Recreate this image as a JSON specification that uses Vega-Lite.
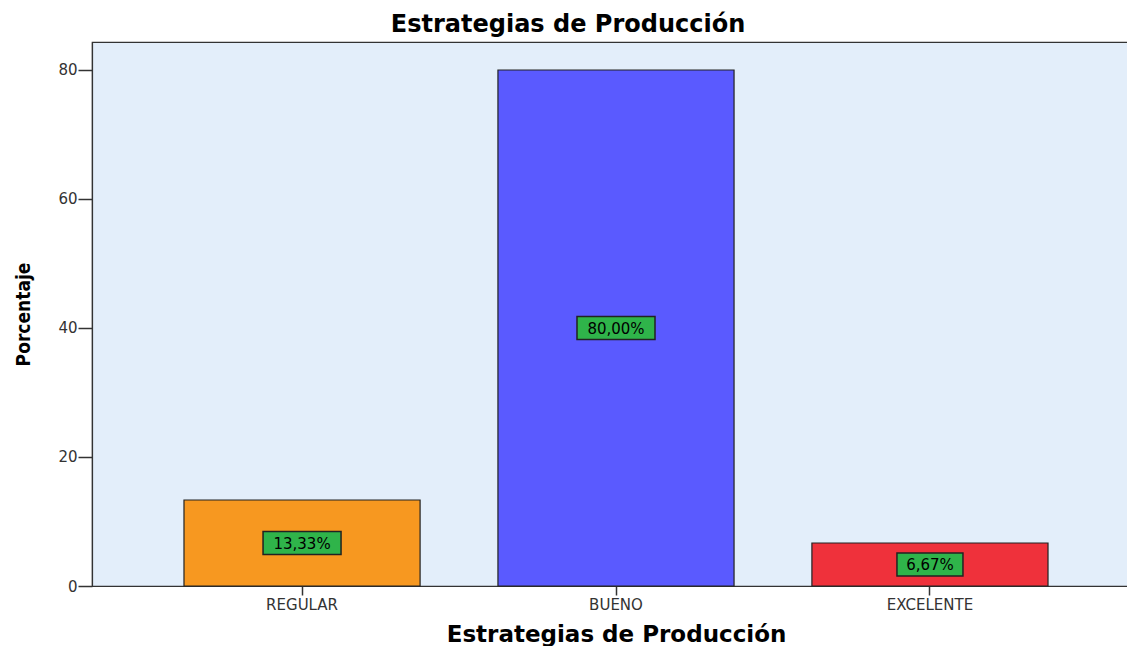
{
  "$schema": "https://vega.github.io/schema/vega-lite/v6.json",
  "autosize": "none",
  "width": 1048,
  "height": 544,
  "padding": {"left": 92, "top": 42, "right": 0, "bottom": 60},
  "background": "white",
  "config": {
    "view": {"fill": "#e3eefa", "stroke": "#333333", "strokeWidth": 1.2},
    "font": "DejaVu Sans"
  },
  "title": {
    "text": "Estrategias de Producción",
    "font": "DejaVu Sans",
    "fontSize": 24,
    "fontWeight": "bold",
    "color": "#000000",
    "anchor": "middle",
    "dx": -48,
    "offset": 5
  },
  "data": {
    "values": [
      {"cat": "REGULAR", "pct": 13.33, "label": "13,33%"},
      {"cat": "BUENO", "pct": 80.0, "label": "80,00%"},
      {"cat": "EXCELENTE", "pct": 6.67, "label": "6,67%"}
    ]
  },
  "transform": [{"calculate": "datum.pct / 2", "as": "mid"}],
  "encoding": {
    "x": {
      "field": "cat",
      "type": "nominal",
      "sort": ["REGULAR", "BUENO", "EXCELENTE"],
      "scale": {"paddingInner": 0.248, "paddingOuter": 0.293},
      "axis": {
        "title": "Estrategias de Producción",
        "titleFont": "DejaVu Sans",
        "titleFontSize": 23,
        "titleFontWeight": "bold",
        "titleColor": "#000000",
        "titlePadding": 11,
        "labelAngle": 0,
        "labelFont": "DejaVu Sans",
        "labelFontSize": 15,
        "labelColor": "#333333",
        "labelPadding": 2,
        "tickSize": 9,
        "tickWidth": 1.5,
        "tickColor": "#333333",
        "domainColor": "#333333",
        "domainWidth": 1.2
      }
    }
  },
  "layer": [
    {
      "mark": {"type": "bar", "stroke": "#222222", "strokeWidth": 1.2},
      "encoding": {
        "y": {
          "field": "pct",
          "type": "quantitative",
          "scale": {"domain": [0, 84.34], "nice": false},
          "axis": {
            "title": "Porcentaje",
            "titleFont": "DejaVu Sans Condensed",
            "titleFontSize": 19,
            "titleFontWeight": "bold",
            "titleColor": "#000000",
            "titlePadding": 24,
            "values": [0, 20, 40, 60, 80],
            "grid": false,
            "labelFont": "DejaVu Sans",
            "labelFontSize": 15,
            "labelColor": "#333333",
            "labelPadding": 1,
            "tickSize": 14,
            "tickWidth": 1.5,
            "tickColor": "#333333",
            "domainColor": "#333333",
            "domainWidth": 1.2
          }
        },
        "color": {
          "field": "cat",
          "type": "nominal",
          "scale": {
            "domain": ["REGULAR", "BUENO", "EXCELENTE"],
            "range": ["#f79820", "#5a5aff", "#ef313b"]
          },
          "legend": null
        }
      }
    },
    {
      "mark": {
        "type": "point",
        "filled": true,
        "fill": "#2fb44a",
        "stroke": "#222222",
        "strokeWidth": 1.5,
        "opacity": 1,
        "shape": "M-1,-0.295L1,-0.295L1,0.295L-1,0.295Z",
        "size": 6084
      },
      "encoding": {
        "y": {"field": "mid", "type": "quantitative"},
        "shape": {
          "condition": {"test": "datum.cat === 'EXCELENTE'", "value": "M-1,-0.348L1,-0.348L1,0.348L-1,0.348Z"},
          "value": "M-1,-0.295L1,-0.295L1,0.295L-1,0.295Z"
        },
        "size": {
          "condition": {"test": "datum.cat === 'EXCELENTE'", "value": 4356},
          "value": 6084
        }
      }
    },
    {
      "mark": {"type": "text", "font": "DejaVu Sans", "fontSize": 15, "color": "#000000", "baseline": "middle", "align": "center", "dy": 1},
      "encoding": {
        "y": {"field": "mid", "type": "quantitative"},
        "text": {"field": "label"}
      }
    }
  ]
}
